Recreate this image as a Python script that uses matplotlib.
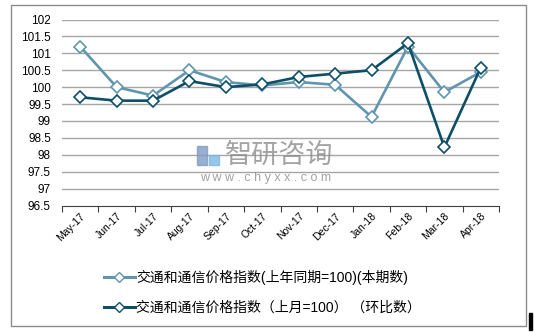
import matplotlib
matplotlib.use("Agg")
import matplotlib.pyplot as plt
from matplotlib.patches import Rectangle
from matplotlib.lines import Line2D

# Data
months = ["May-17", "Jun-17", "Jul-17", "Aug-17", "Sep-17", "Oct-17",
          "Nov-17", "Dec-17", "Jan-18", "Feb-18", "Mar-18", "Apr-18"]
yoy_index = [101.2, 100.0, 99.75, 100.5, 100.15, 100.05,
             100.15, 100.07, 99.12, 101.2, 99.85, 100.45]
mom_index = [99.7, 99.6, 99.6, 100.18, 100.0, 100.08,
             100.3, 100.4, 100.5, 101.3, 98.22, 100.58]
yoy_label = "交通和通信价格指数(上年同期=100)(本期数)"
mom_label = "交通和通信价格指数（上月=100） （环比数）"
y_ticks = [96.5, 97, 97.5, 98, 98.5, 99, 99.5, 100, 100.5, 101, 101.5, 102]

LIGHT = "#5f96ad"
DARK = "#0e4f67"

plt.rcParams['font.family'] = ['Liberation Sans', 'Noto Sans CJK SC', 'DejaVu Sans']

fig = plt.figure(figsize=(5.34, 3.32), dpi=100)
ax = fig.add_axes([62 / 534, 1 - 205.5 / 332, (499 - 62) / 534, (205.5 - 19.5) / 332])

x = list(range(len(months)))
ax.plot(x, yoy_index, color=LIGHT, lw=1.9, marker='D', markersize=6.5,
        markerfacecolor='white', markeredgecolor=LIGHT, markeredgewidth=1.2, zorder=3)
ax.plot(x, mom_index, color=DARK, lw=1.9, marker='D', markersize=6.5,
        markerfacecolor='white', markeredgecolor=DARK, markeredgewidth=1.2, zorder=4)

ax.set_ylim(96.5, 102)
ax.set_xlim(-0.5, len(months) - 0.5)
ax.set_yticks(y_ticks)
ax.set_yticklabels([f"{v:g}" for v in y_ticks], fontsize=8.5)
ax.tick_params(axis='y', length=0, pad=8)
for v in y_ticks[1:]:
    ax.axhline(v, color='#a6a6a6', lw=1.0, zorder=1)

# category ticks sit on the boundaries, labels in between
ax.set_xticks([i - 0.5 for i in range(len(months) + 1)])
ax.set_xticklabels([])
ax.set_xticks(x, minor=True)
ax.set_xticklabels(months, minor=True, rotation=45, ha='right',
                   rotation_mode='anchor', fontsize=7.5)
ax.tick_params(axis='x', which='major', length=4, width=0.8, color='#404040')
ax.tick_params(axis='x', which='minor', length=0, pad=4)

for side in ['top', 'right', 'left']:
    ax.spines[side].set_visible(False)
ax.spines['bottom'].set_color('#404040')
ax.spines['bottom'].set_linewidth(0.8)

# watermark
fig.text(225 / 534, 1 - 155 / 332, "智研咨询", fontsize=19.5, color='#8c8c8c',
         alpha=0.8, va='center', ha='left', family=['Noto Sans CJK SC'])
fig.text(266 / 534, 1 - 178 / 332, "w w w . c h y x x . c o m", fontsize=9,
         color='#8c8c8c', alpha=0.8, va='center', ha='center')
fig.add_artist(Rectangle((197 / 534, 1 - 165 / 332), 10 / 534, 19 / 332,
                         transform=fig.transFigure, color='#7f9bc4', alpha=0.8))
fig.add_artist(Rectangle((209 / 534, 1 - 165 / 332), 10 / 534, 10 / 332,
                         transform=fig.transFigure, color='#7fb8e0', alpha=0.8))

# legend
handles = [
    Line2D([], [], color=LIGHT, lw=2.2, marker='D', markersize=5,
           markerfacecolor='white', markeredgecolor=LIGHT),
    Line2D([], [], color=DARK, lw=2.2, marker='D', markersize=5,
           markerfacecolor='white', markeredgecolor=DARK),
]
fig.legend(handles, [yoy_label, mom_label], loc='upper left',
           bbox_to_anchor=(104 / 534, 1 - 270 / 332), frameon=False,
           fontsize=10, handlelength=2.2, handletextpad=0.1,
           labelspacing=1.15, borderpad=0, borderaxespad=0)

# outer border and little mark at the corner
fig.add_artist(Rectangle((11 / 534, 6 / 332), 515 / 534, 321 / 332,
                         transform=fig.transFigure, fill=False,
                         edgecolor='#8c8c8c', lw=1.0))
fig.add_artist(Rectangle((529 / 534, 2 / 332), 3 / 534, 17 / 332,
                         transform=fig.transFigure, color='black'))

fig.savefig("out.png", dpi=100)
